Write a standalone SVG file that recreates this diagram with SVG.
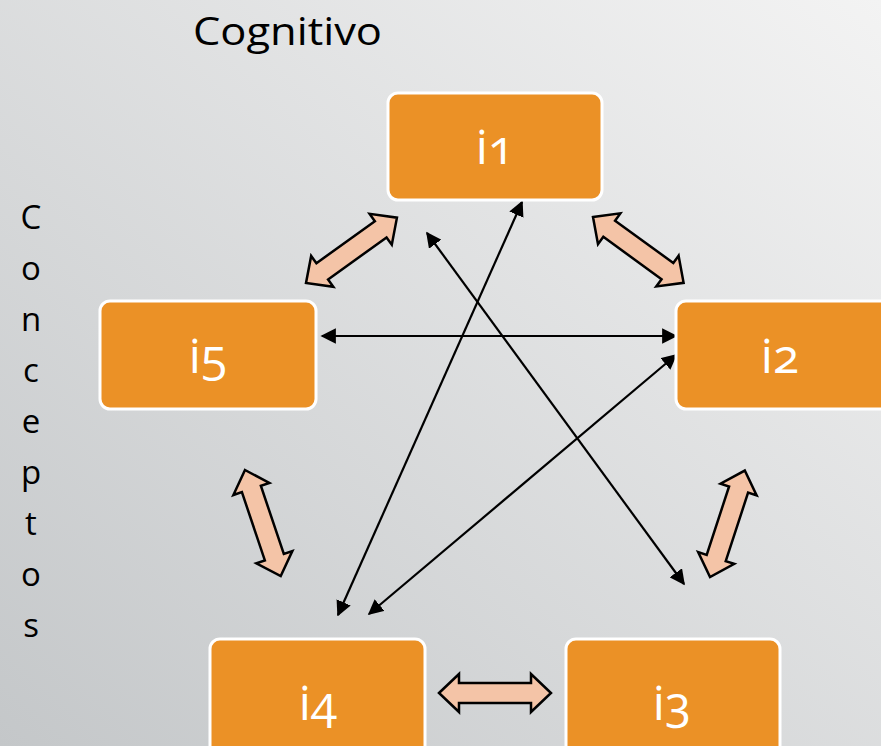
<svg xmlns="http://www.w3.org/2000/svg" width="881" height="746" viewBox="0 0 881 746">
<defs>
<linearGradient id="bg" x1="1" y1="0" x2="0" y2="1">
<stop offset="0" stop-color="#f3f3f3"/>
<stop offset="1" stop-color="#c4c7c9"/>
</linearGradient>
<marker id="ah" viewBox="0 0 10 10" refX="9" refY="5" markerWidth="7" markerHeight="7" markerUnits="strokeWidth" orient="auto-start-reverse">
<path d="M0,0 L10,5 L0,10 Z" fill="#000"/>
</marker>
<path id="blk" d="M0,0 L20,-19 L20,-10 L92,-10 L92,-19 L112,0 L92,19 L92,10 L20,10 L20,19 Z"/>
</defs>
<style>
.box{fill:#eb9126;stroke:#ffffff;stroke-width:3}
.lbl{fill:#ffffff;font-family:"Open Sans","DejaVu Sans",sans-serif;font-size:48px;text-anchor:middle;font-variant-numeric:oldstyle-nums;font-feature-settings:"onum" 1}
.ttl{fill:#000;font-family:"Open Sans","DejaVu Sans",sans-serif;font-size:38px}
.vt{fill:#000;font-family:"Open Sans","DejaVu Sans",sans-serif;font-size:33px;text-anchor:middle}
.thin{stroke:#000;stroke-width:2.2;fill:none;marker-start:url(#ah);marker-end:url(#ah)}
.fat{fill:#f4c4a7;stroke:#000;stroke-width:2.5;stroke-linejoin:miter}
</style>
<rect width="881" height="746" fill="url(#bg)"/>
<text class="ttl" x="193" y="45" textLength="189" lengthAdjust="spacingAndGlyphs">Cognitivo</text>
<g id="conceptos">
<text class="vt" x="31" y="229">C</text>
<text class="vt" x="31" y="280">o</text>
<text class="vt" x="31" y="331">n</text>
<text class="vt" x="31" y="382">c</text>
<text class="vt" x="31" y="433">e</text>
<text class="vt" x="31" y="484">p</text>
<text class="vt" x="31" y="535">t</text>
<text class="vt" x="31" y="586">o</text>
<text class="vt" x="31" y="637">s</text>
</g>
<g id="connectors">
<line class="thin" x1="322" y1="336" x2="676" y2="336"/>
<line class="thin" x1="522" y1="202" x2="338" y2="615"/>
<line class="thin" x1="427" y1="233" x2="684" y2="584"/>
<line class="thin" x1="676" y1="355" x2="369" y2="614"/>
<use href="#blk" class="fat" transform="translate(306,283) rotate(-35.7)"/>
<use href="#blk" class="fat" transform="translate(593,217) rotate(36)"/>
<use href="#blk" class="fat" transform="translate(245,470) rotate(71.4)"/>
<use href="#blk" class="fat" transform="translate(710,577) rotate(-71.9)"/>
<use href="#blk" class="fat" transform="translate(439,693)"/>
</g>
<g id="i1"><rect class="box" x="388" y="93" width="214" height="107" rx="10"/><text class="lbl" x="495" y="164">i1</text></g>
<g id="i2"><rect class="box" x="676" y="301" width="220" height="108" rx="10"/><text class="lbl" x="780" y="373">i2</text></g>
<g id="i3"><rect class="box" x="566" y="639" width="214" height="120" rx="10"/><text class="lbl" x="672" y="720">i3</text></g>
<g id="i4"><rect class="box" x="210" y="639" width="215" height="120" rx="10"/><text class="lbl" x="318" y="720">i4</text></g>
<g id="i5"><rect class="box" x="100" y="301" width="216" height="108" rx="10"/><text class="lbl" x="208" y="373">i5</text></g>
</svg>
